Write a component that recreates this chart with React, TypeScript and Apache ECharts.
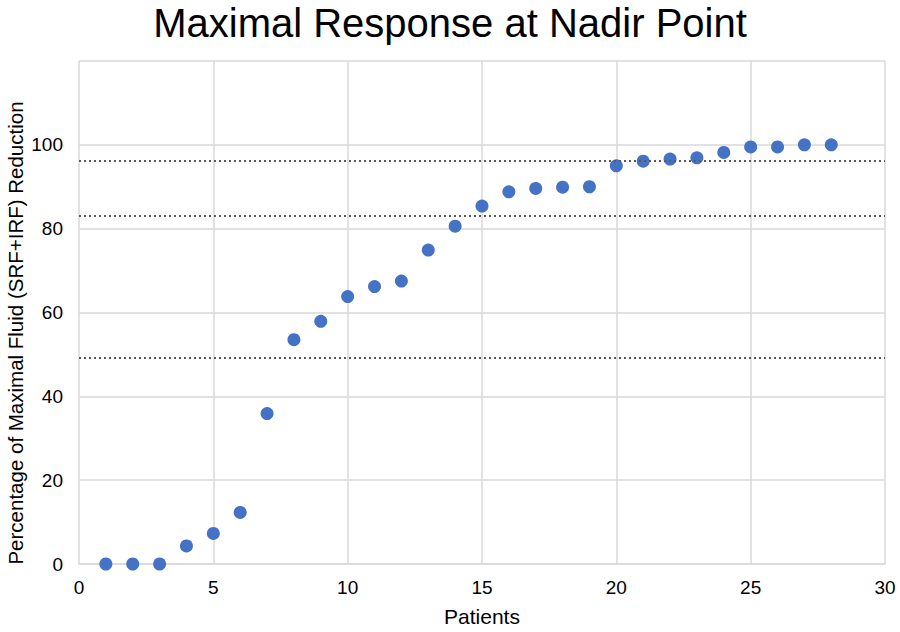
import React, { useEffect, useRef } from "react";
import * as echarts from "echarts";

const patients = [1,2,3,4,5,6,7,8,9,10,11,12,13,14,15,16,17,18,19,20,21,22,23,24,25,26,27,28];
const reduction = [0,0,0,4.3,7.3,12.3,35.9,53.5,57.9,63.8,66.2,67.5,74.9,80.6,85.4,88.8,89.6,89.9,90.0,95.0,96.1,96.6,96.9,98.2,99.5,99.5,100,100];
const thresholds = [96.1, 83.1, 49.2];
const xTicks = [0, 5, 10, 15, 20, 25, 30];
const yTicks = [0, 20, 40, 60, 80, 100, 120];

export default function App() {
  const ref = useRef<HTMLDivElement>(null);
  useEffect(() => {
    if (!ref.current) return;
    const chart = echarts.init(ref.current, null, { renderer: "svg" });
    const font = "Liberation Sans, Arial, sans-serif";
    chart.setOption({
      animation: false,
      backgroundColor: "#ffffff",
      title: {
        text: "Maximal Response at Nadir Point",
        left: "center",
        top: -2,
        textStyle: { fontFamily: font, fontSize: 40, fontWeight: "normal", color: "#000" },
      },
      grid: { left: 79, right: 15, top: 61, bottom: 65 },
      xAxis: {
        type: "value",
        min: xTicks[0],
        max: xTicks[xTicks.length - 1],
        interval: 5,
        name: "Patients",
        nameLocation: "middle",
        nameGap: 42,
        nameTextStyle: { fontFamily: font, fontSize: 21, color: "#000" },
        axisLine: { show: true, lineStyle: { color: "#d9d9d9", width: 1.5 } },
        axisTick: { show: false },
        axisLabel: { fontFamily: font, fontSize: 19, color: "#000", margin: 14 },
        splitLine: { show: true, lineStyle: { color: "#d9d9d9", width: 1.5 } },
      },
      yAxis: {
        type: "value",
        min: yTicks[0],
        max: yTicks[yTicks.length - 1],
        interval: 20,
        axisLine: { show: false },
        axisTick: { show: false },
        axisLabel: {
          fontFamily: font,
          fontSize: 19,
          color: "#000",
          margin: 16,
          formatter: (v: number) => (v === 120 ? "" : String(v)),
        },
        splitLine: { show: true, lineStyle: { color: "#d9d9d9", width: 1.5 } },
      },
      graphic: [
        {
          type: "text",
          x: 15,
          y: 333,
          rotation: Math.PI / 2,
          style: {
            text: "Percentage of Maximal Fluid (SRF+IRF) Reduction",
            fontFamily: font,
            fontSize: 20.5,
            fill: "#000",
            textAlign: "center",
            textVerticalAlign: "middle",
          },
        },
      ],
      series: [
        {
          type: "scatter",
          data: patients.map((p, i) => [p, reduction[i]]),
          symbol: "circle",
          symbolSize: 13,
          itemStyle: { color: "#4472C4", opacity: 1 },
          markLine: {
            silent: true,
            symbol: ["none", "none"],
            label: { show: false },
            lineStyle: { type: [2, 3], color: "#595959", width: 2 },
            data: thresholds.map((t) => ({ yAxis: t })),
          },
          z: 3,
        },
      ],
    });
    return () => chart.dispose();
  }, []);
  return <div ref={ref} style={{ width: 900, height: 632, position: "absolute", left: 0, top: 0 }} />;
}
